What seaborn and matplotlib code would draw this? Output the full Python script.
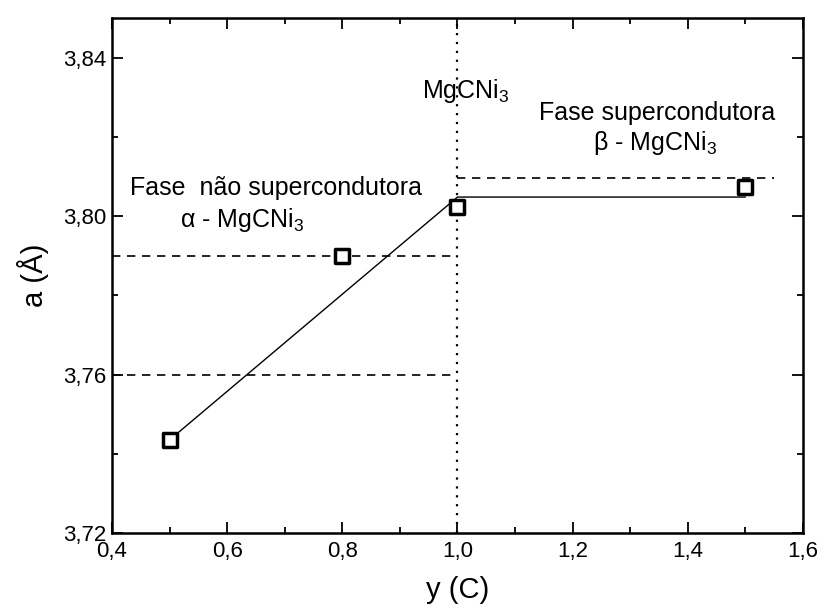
import matplotlib
matplotlib.use("Agg")
import matplotlib.pyplot as plt
import seaborn as sns
import pandas as pd
from matplotlib.ticker import MultipleLocator, FuncFormatter

# Data
y_C = [0.5, 0.8, 1.0, 1.5]
a_lat = [3.7435, 3.790, 3.8022, 3.8074]

fit_x = [0.5, 1.0, 1.5]
fit_y = [3.7435, 3.8048, 3.8048]

dash_levels_left = [3.790, 3.760]
dash_left_x = [0.4, 1.0]
dash_right_level = 3.8095
dash_right_x = [1.0, 1.55]
vline_x = 1.0

sns.set_theme(style="ticks")
plt.rcParams['font.family'] = ['Liberation Sans', 'DejaVu Sans']
plt.rcParams['mathtext.fontset'] = 'custom'
plt.rcParams['mathtext.rm'] = 'Liberation Sans'
plt.rcParams['mathtext.it'] = 'Liberation Sans:italic'
plt.rcParams['text.color'] = 'black'
plt.rcParams['axes.labelcolor'] = 'black'

fig = plt.figure(figsize=(8.36, 6.14), dpi=100)
ax = fig.add_axes([112/836, 1 - 533/614, (803-112)/836, (533-18)/614])

df_pts = pd.DataFrame({"x": y_C, "a": a_lat})
df_fit = pd.DataFrame({"x": fit_x, "a": fit_y})

sns.lineplot(data=df_fit, x="x", y="a", ax=ax, color="black", lw=1.0, sort=False)
for lv in dash_levels_left:
    ax.plot(dash_left_x, [lv, lv], ls=(0, (5, 4)), color="black", lw=1.2)
ax.plot(dash_right_x, [dash_right_level]*2, ls=(0, (5, 4)), color="black", lw=1.2)
ax.axvline(vline_x, ls=(0, (1, 3)), color="black", lw=1.6)
sns.scatterplot(data=df_pts, x="x", y="a", ax=ax, marker="s", s=110,
                facecolor="white", edgecolor="black", linewidth=2.5, zorder=5)

ax.set_xlim(0.4, 1.6)
ax.set_ylim(3.72, 3.85)
ax.xaxis.set_major_locator(MultipleLocator(0.2))
ax.xaxis.set_minor_locator(MultipleLocator(0.1))
ax.yaxis.set_major_locator(MultipleLocator(0.04))
ax.yaxis.set_minor_locator(MultipleLocator(0.02))
ax.xaxis.set_major_formatter(FuncFormatter(lambda v, p: f"{v:.1f}".replace(".", ",")))
ax.yaxis.set_major_formatter(FuncFormatter(lambda v, p: f"{v:.2f}".replace(".", ",")))
ax.tick_params(which="both", direction="in", top=True, right=True, labelsize=16,
               width=1.3, colors="black")
ax.tick_params(which="major", length=8)
ax.tick_params(which="minor", length=4)
ax.tick_params(axis="x", which="major", pad=6)
ax.tick_params(axis="y", which="major", pad=4)
for s in ax.spines.values():
    s.set_linewidth(1.8)
    s.set_color("black")

ax.set_xlabel("y (C)", fontsize=21, labelpad=10)
ax.set_ylabel("a (Å)", fontsize=21, labelpad=10)

fs = 18
ax.text(0.938, 3.8298, "MgCNi$_3$", ha="left", va="baseline", fontsize=fs)
ax.text(1.347, 3.8243, "Fase supercondutora", ha="center", va="baseline", fontsize=fs)
ax.text(1.235, 3.8167, "β - MgCNi$_3$", ha="left", va="baseline", fontsize=fs)
ax.text(0.685, 3.8053, "Fase  não supercondutora", ha="center", va="baseline", fontsize=fs)
ax.text(0.518, 3.7973, "α - MgCNi$_3$", ha="left", va="baseline", fontsize=fs)

fig.savefig("out.png", dpi=100)
